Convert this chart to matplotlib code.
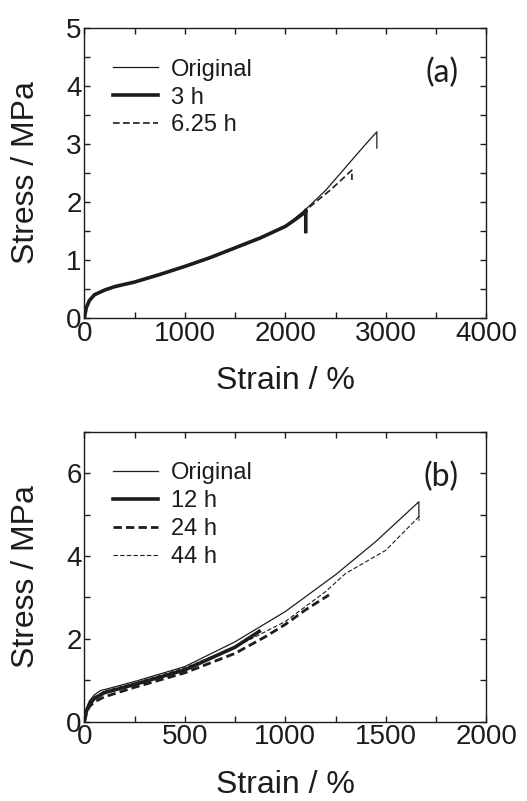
"""Stress-strain curves, panels (a) and (b)"""

import matplotlib.pyplot as plt

# panel (a)
strain_a_orig = [0, 20, 50, 100, 200, 300, 500, 750, 1000, 1250, 1500, 1750,
                 2000, 2200, 2400, 2600, 2800, 2910, 2910]
stress_a_orig = [0, 0.18, 0.3, 0.4, 0.48, 0.53, 0.62, 0.75, 0.88, 1.03, 1.2,
                 1.37, 1.58, 1.87, 2.2, 2.6, 3.0, 3.21, 2.93]
strain_a_3h = [0, 20, 50, 100, 200, 300, 500, 750, 1000, 1250, 1500, 1750,
               2000, 2100, 2200, 2203, 2203]
stress_a_3h = [0, 0.18, 0.3, 0.4, 0.48, 0.54, 0.62, 0.75, 0.89, 1.04, 1.21,
               1.38, 1.58, 1.7, 1.83, 1.86, 1.49]
strain_a_625h = [0, 20, 50, 100, 200, 300, 500, 750, 1000, 1250, 1500, 1750,
                 2000, 2200, 2300, 2450, 2600, 2662, 2662]
stress_a_625h = [0, 0.18, 0.3, 0.4, 0.48, 0.54, 0.62, 0.75, 0.89, 1.04, 1.21,
                 1.38, 1.58, 1.85, 2.0, 2.21, 2.45, 2.55, 2.38]

# panel (b)
strain_b_orig = [0, 10, 25, 50, 80, 120, 250, 500, 750, 1000, 1250, 1450,
                 1664, 1664]
stress_b_orig = [0, 0.3, 0.5, 0.65, 0.75, 0.8, 0.97, 1.33, 1.93, 2.66, 3.55,
                 4.35, 5.31, 4.92]
strain_b_12h = [0, 10, 25, 50, 100, 250, 500, 750, 870]
stress_b_12h = [0, 0.25, 0.42, 0.56, 0.7, 0.9, 1.25, 1.8, 2.18]
strain_b_24h = [0, 10, 25, 50, 100, 250, 500, 750, 900, 1000, 1100, 1217]
stress_b_24h = [0, 0.2, 0.36, 0.48, 0.6, 0.83, 1.18, 1.65, 2.05, 2.35, 2.7,
                3.06]
strain_b_44h = [0, 10, 25, 50, 100, 250, 500, 750, 1000, 1200, 1300, 1500,
                1664, 1664]
stress_b_44h = [0, 0.28, 0.46, 0.6, 0.74, 0.93, 1.3, 1.8, 2.42, 3.14, 3.58,
                4.14, 4.95, 4.85]

INK = '#1c1c1c'


def style_axes(ax, xmax, xmajor, xminor, ymax, ymajor, yminor):
    """Frame, ticks and labels shared by both panels"""
    ax.set_xlim(0, xmax)
    ax.set_ylim(0, ymax)
    ax.set_xticks(range(0, xmax + 1, xmajor))
    ax.set_xticks(range(0, xmax + 1, xminor), minor=True)
    ax.set_yticks(range(0, ymax + 1, ymajor))
    ax.set_yticks([v * yminor for v in range(int(ymax / yminor) + 1)],
                  minor=True)
    ax.tick_params(which='both', direction='in', top=True, right=True,
                   colors=INK, width=1.0)
    ax.tick_params(which='major', length=4.5, labelsize=20, pad=2)
    ax.tick_params(which='minor', length=4.0)
    for s in ax.spines.values():
        s.set_linewidth(1.0)
        s.set_color(INK)
    ax.set_xlabel('Strain / %', fontsize=23, color=INK)
    ax.xaxis.set_label_coords(0.5, -0.165)
    ax.set_ylabel('Stress / MPa', fontsize=23, color=INK, va='center')
    ax.yaxis.set_label_coords(-0.144, 0.5)


def add_legend(ax):
    """Frameless legend in the upper left"""
    ax.legend(loc='upper left', bbox_to_anchor=(0.042, 0.935), frameon=False,
              fontsize=17, handlelength=1.9, handletextpad=0.55,
              labelspacing=0.25, borderpad=0, labelcolor=INK)


def main():
    """Main function"""
    plt.rcParams['font.family'] = ['Liberation Sans', 'DejaVu Sans']
    fig = plt.figure(figsize=(5.27, 8.01), dpi=100)

    ax1 = fig.add_axes([0.160, 0.603, 0.763, 0.362])
    ax1.plot(strain_a_orig, stress_a_orig, color=INK, lw=0.9,
             label='Original')
    ax1.plot(strain_a_3h, stress_a_3h, color=INK, lw=2.6, label='3 h')
    ax1.plot(strain_a_625h, stress_a_625h, color=INK, lw=1.2, ls=(0, (4, 2)),
             label='6.25 h')
    style_axes(ax1, 4000, 1000, 500, 5, 1, 0.5)
    add_legend(ax1)
    ax1.text(0.93, 0.845, '(a)', transform=ax1.transAxes, fontsize=23,
             family='Lato', color=INK, ha='right', va='center')

    ax2 = fig.add_axes([0.160, 0.099, 0.763, 0.362])
    ax2.plot(strain_b_orig, stress_b_orig, color=INK, lw=0.9,
             label='Original')
    ax2.plot(strain_b_12h, stress_b_12h, color=INK, lw=2.6, label='12 h')
    ax2.plot(strain_b_24h, stress_b_24h, color=INK, lw=2.0, ls=(0, (3, 1.5)),
             label='24 h')
    ax2.plot(strain_b_44h, stress_b_44h, color=INK, lw=0.8, ls=(0, (4, 2)),
             label='44 h')
    style_axes(ax2, 2000, 500, 250, 7, 2, 1)
    add_legend(ax2)
    ax2.text(0.93, 0.845, '(b)', transform=ax2.transAxes, fontsize=23,
             family='Lato', color=INK, ha='right', va='center')

    fig.savefig('out.png', dpi=100)


if __name__ == "__main__":
    main()
